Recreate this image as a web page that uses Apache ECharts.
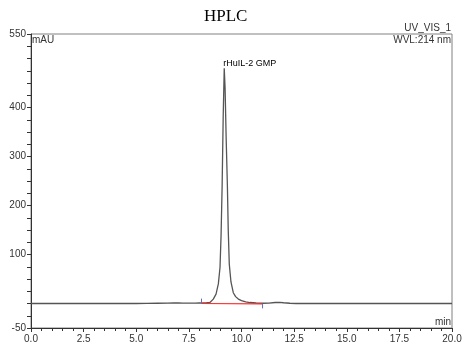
<!DOCTYPE html>
<html>
<head>
<meta charset="utf-8">
<script src="https://cdn.jsdelivr.net/npm/echarts@6/dist/echarts.min.js"></script>
<style>html,body{margin:0;padding:0;background:#fff;}#c{width:468px;height:353px;}</style>
</head>
<body>
<div id="c"></div>
<script>
// retention time (min)
var times = [0, 1, 2, 3, 4, 5, 5.5, 6, 6.5, 6.8, 7.0, 7.2, 7.5, 7.8, 8.0, 8.3, 8.5, 8.66, 8.79, 8.9, 8.98, 9.03, 9.08, 9.13, 9.18, 9.22, 9.27, 9.33, 9.37, 9.42, 9.5, 9.61, 9.72, 9.85, 10.0, 10.2, 10.4, 10.7, 11.0, 11.3, 11.6, 11.8, 12.0, 12.3, 12.6, 13, 14, 15, 16, 17, 18, 19, 20];
// absorbance (mAU)
var signal = [0, 0, 0, 0, 0, 0, 0.3, 0.5, 0.6, 1, 1.2, 0.8, 0.6, 0.8, 1, 1, 2, 9, 19, 40, 74, 140, 240, 380, 480, 440, 340, 240, 150, 80, 44, 22, 14, 9, 6, 3.5, 2, 1, 0.5, 0.8, 2, 2.5, 1.5, 0.5, 0, 0, 0, 0, 0, 0, 0, 0, 0];
var peakName = "rHuIL-2 GMP";
var peakTime = 9.18, peakHeight = 480;
var baseStart = 8.1, baseEnd = 11.0;
var yLabels = [-50, 100, 200, 300, 400, 550];

var data = times.map(function (t, i) { return [t, signal[i]]; });
var labelFont = 'Liberation Sans, Arial, sans-serif';

var chart = echarts.init(document.getElementById('c'));
chart.setOption({
  animation: false,
  title: {
    text: 'HPLC', left: 199, top: 3,
    textStyle: { fontFamily: 'Liberation Serif, Times New Roman, serif', fontSize: 17, fontWeight: 'normal', color: '#000' }
  },
  grid: { left: 31, right: 16, top: 34, bottom: 25, show: true, borderColor: '#808080', borderWidth: 1 },
  xAxis: {
    type: 'value', min: 0, max: 20, interval: 2.5,
    axisLine: { onZero: false, lineStyle: { color: '#333' } },
    axisTick: { show: true, length: 4, lineStyle: { color: '#333' } },
    minorTick: { show: true, splitNumber: 5, length: 3, lineStyle: { color: '#333' } },
    splitLine: { show: false },
    axisLabel: { color: '#333', fontSize: 10, fontFamily: labelFont, margin: 6,
      formatter: function (v) { return v.toFixed(1); } }
  },
  yAxis: {
    type: 'value', min: -50, max: 550, interval: 50,
    axisLine: { show: true, onZero: false, lineStyle: { color: '#333' } },
    axisTick: { show: true, length: 4, lineStyle: { color: '#333' } },
    minorTick: { show: true, splitNumber: 2, length: 4, lineStyle: { color: '#333' } },
    splitLine: { show: false },
    axisLabel: { color: '#333', fontSize: 10, fontFamily: labelFont, margin: 5, customValues: yLabels }
  },
  series: [
    {
      type: 'line', data: data, showSymbol: false, symbol: 'none',
      lineStyle: { color: '#555', width: 1.3 },
      z: 3,
      markPoint: {
        symbol: 'circle', symbolSize: 0,
        data: [{ coord: [peakTime, peakHeight], value: peakName }],
        label: { show: true, position: [-1, -9], formatter: peakName, color: '#000',
          fontSize: 9, fontFamily: labelFont }
      }
    },
    {
      type: 'line', data: [[baseStart, 0], [baseEnd, -0.8]], showSymbol: false, symbol: 'none',
      lineStyle: { color: '#ff2a2a', width: 1.2 }, z: 4
    },
    {
      type: 'line', data: [[baseStart, 0.5], [baseStart, 10]], showSymbol: false, symbol: 'none',
      lineStyle: { color: '#6a6ab8', width: 1 }, z: 4
    },
    {
      type: 'line', data: [[baseEnd, -0.5], [baseEnd, -10]], showSymbol: false, symbol: 'none',
      lineStyle: { color: '#6a6ab8', width: 1 }, z: 4
    }
  ],
  graphic: [
    { type: 'text', right: 17, top: 23, style: { text: 'UV_VIS_1', fontSize: 10, fontFamily: labelFont, fill: '#333' } },
    { type: 'text', right: 17, top: 35, style: { text: 'WVL:214 nm', fontSize: 10, fontFamily: labelFont, fill: '#333' } },
    { type: 'text', left: 32, top: 35, style: { text: 'mAU', fontSize: 10, fontFamily: labelFont, fill: '#333' } },
    { type: 'text', right: 17, top: 317, style: { text: 'min', fontSize: 10, fontFamily: labelFont, fill: '#333' } }
  ]
});
</script>
</body>
</html>
